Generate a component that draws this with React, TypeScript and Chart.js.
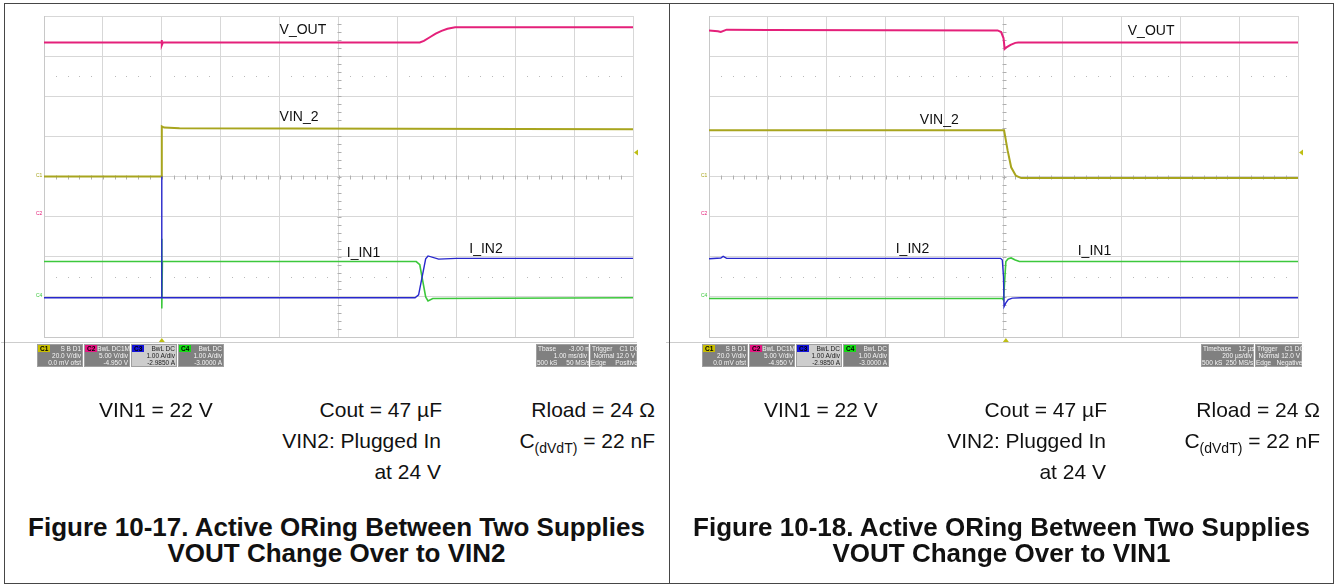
import React, { useEffect, useRef } from "react";
import { Chart, registerables } from "chart.js";
Chart.register(...registerables);

// ---------- Data (x in screen divisions 0..10, y in divisions -4..4) ----------
// Figure 10-17
const F17_VOUT_X = [0, 2.0, 2.0, 2.0, 2.02, 6.38, 6.45, 6.55, 6.65, 6.75, 6.85, 6.98, 10];
const F17_VOUT_Y = [3.34, 3.34, 3.4, 3.27, 3.34, 3.34, 3.38, 3.47, 3.56, 3.63, 3.68, 3.72, 3.72];
const F17_VIN2_X = [0, 2.0, 2.0, 2.04, 2.3, 10];
const F17_VIN2_Y = [0, 0, 1.25, 1.22, 1.2, 1.18];
const F17_IIN1_X = [0, 2.0, 2.0, 2.0, 2.01, 6.32, 6.38, 6.43, 6.48, 6.52, 6.6, 10];
const F17_IIN1_Y = [-2.12, -2.12, -1.55, -3.29, -2.12, -2.12, -2.2, -2.6, -3.0, -3.1, -3.04, -3.02];
const F17_IIN2_X = [0, 2.0, 2.0, 2.0, 2.01, 6.3, 6.36, 6.42, 6.48, 6.52, 6.7, 7.0, 10];
const F17_IIN2_Y = [-3.02, -3.02, 0, -3.02, -3.02, -3.02, -2.95, -2.5, -2.05, -1.98, -2.06, -2.04, -2.04];

// Figure 10-18
const F18_VOUT_X = [0, 0.15, 0.2, 0.3, 1.0, 4.9, 4.96, 5.0, 5.02, 5.05, 5.12, 5.2, 5.25, 10];
const F18_VOUT_Y = [3.64, 3.62, 3.6, 3.66, 3.65, 3.64, 3.6, 3.45, 3.18, 3.22, 3.28, 3.33, 3.34, 3.34];
const F18_VIN2_X = [0, 5.01, 5.07, 5.13, 5.21, 5.3, 10];
const F18_VIN2_Y = [1.15, 1.15, 0.65, 0.23, 0.02, -0.04, -0.04];
const F18_IIN2_X = [0, 0.2, 0.24, 0.3, 4.95, 4.98, 5.0, 5.01, 5.04, 5.08, 5.15, 5.3, 10];
const F18_IIN2_Y = [-2.05, -2.03, -1.99, -2.04, -2.04, -2.08, -2.5, -3.24, -3.15, -3.07, -3.03, -3.02, -3.02];
const F18_IIN1_X = [0, 4.98, 5.0, 5.02, 5.04, 5.08, 5.13, 5.2, 5.27, 10];
const F18_IIN1_Y = [-3.04, -3.04, -3.08, -2.6, -2.12, -2.05, -2.03, -2.08, -2.12, -2.12];

// Trace labels (text, x div, y div)
const F17_LABELS = ["V_OUT", "VIN_2", "I_IN1", "I_IN2"];
const F17_LABEL_X = [4.0, 4.0, 5.14, 7.22];
const F17_LABEL_Y = [3.64, 1.47, -1.9, -1.8];
const F18_LABELS = ["V_OUT", "VIN_2", "I_IN2", "I_IN1"];
const F18_LABEL_X = [7.11, 3.58, 3.17, 6.26];
const F18_LABEL_Y = [3.62, 1.4, -1.8, -1.85];

const F17_TRIG_X = 2.0;
const F18_TRIG_X = 5.04;
const TRIG_LEVEL = 0.6;

const PINK = "rgb(228,32,122)";
const OLIVE = "rgb(168,165,30)";
const GREEN = "rgb(60,200,60)";
const BLUE = "rgb(40,40,205)";

const FONT = "'Liberation Sans', Arial, sans-serif";

type Props = {
  traces: { xs: number[]; ys: number[]; color: string; width: number; order: number }[];
  labels: string[];
  labelX: number[];
  labelY: number[];
  trigX: number;
};

function zip(xs: number[], ys: number[]) {
  return xs.map((x, i) => ({ x, y: ys[i] }));
}

function ScopeCanvas({ traces, labels, labelX, labelY, trigX }: Props) {
  const ref = useRef<HTMLCanvasElement>(null);
  useEffect(() => {
    const canvas = ref.current!;
    const plugin = {
      id: "graticule",
      beforeDatasetsDraw(chart: any) {
        const { ctx, scales } = chart;
        const x = scales.x;
        const y = scales.y;
        ctx.save();
        ctx.strokeStyle = "rgb(175,175,175)";
        ctx.lineWidth = 1;
        const y0 = Math.round(y.getPixelForValue(0)) + 0.5;
        const x0 = Math.round(x.getPixelForValue(5)) + 0.5;
        ctx.beginPath();
        for (let i = 1; i < 50; i++) {
          const px = Math.round(x.getPixelForValue(i * 0.2)) + 0.5;
          ctx.moveTo(px, y0 - 2);
          ctx.lineTo(px, y0 + 2);
        }
        for (let i = 1; i < 40; i++) {
          const py = Math.round(y.getPixelForValue(-4 + i * 0.2)) + 0.5;
          ctx.moveTo(x0 - 2, py);
          ctx.lineTo(x0 + 2, py);
        }
        ctx.stroke();
        ctx.fillStyle = "rgb(185,185,185)";
        for (const row of [2.5, -2.5]) {
          const py = Math.round(y.getPixelForValue(row));
          for (let i = 1; i < 50; i++) {
            if (i % 5 === 0) continue;
            const px = Math.round(x.getPixelForValue(i * 0.2));
            ctx.fillRect(px, py, 1, 1);
          }
        }
        ctx.restore();
      },
      afterDatasetsDraw(chart: any) {
        const { ctx, scales, chartArea } = chart;
        const x = scales.x;
        const y = scales.y;
        ctx.save();
        ctx.fillStyle = "#111";
        ctx.font = `14px ${FONT}`;
        ctx.textBaseline = "middle";
        ctx.textAlign = "left";
        labels.forEach((t, i) => {
          ctx.fillText(t, x.getPixelForValue(labelX[i]), y.getPixelForValue(labelY[i]));
        });
        ctx.fillStyle = "rgb(190,190,20)";
        const ty = y.getPixelForValue(TRIG_LEVEL);
        ctx.beginPath();
        ctx.moveTo(chartArea.right + 1, ty);
        ctx.lineTo(chartArea.right + 5, ty - 3);
        ctx.lineTo(chartArea.right + 5, ty + 3);
        ctx.closePath();
        ctx.fill();
        const tx = x.getPixelForValue(trigX);
        ctx.beginPath();
        ctx.moveTo(tx, chartArea.bottom + 1);
        ctx.lineTo(tx - 3, chartArea.bottom + 5);
        ctx.lineTo(tx + 3, chartArea.bottom + 5);
        ctx.closePath();
        ctx.fill();
        ctx.restore();
      },
    };
    const chart = new Chart(canvas, {
      type: "line",
      data: {
        datasets: traces.map((t) => ({
          data: zip(t.xs, t.ys),
          borderColor: t.color,
          borderWidth: t.width,
          pointRadius: 0,
          tension: 0,
          fill: false,
          order: t.order,
        })),
      },
      options: {
        animation: false,
        responsive: false,
        devicePixelRatio: 1,
        layout: { padding: { left: 44, top: 16, right: 35, bottom: 43 }, autoPadding: false },
        plugins: { legend: { display: false }, tooltip: { enabled: false } },
        events: [],
        scales: {
          x: {
            type: "linear",
            min: 0,
            max: 10,
            ticks: { display: false, stepSize: 1 },
            grid: { color: "rgb(215,215,215)", drawTicks: false, lineWidth: 1 },
            border: { color: "rgb(200,200,200)" },
          },
          y: {
            type: "linear",
            min: -4,
            max: 4,
            ticks: { display: false, stepSize: 1 },
            grid: { color: "rgb(215,215,215)", drawTicks: false, lineWidth: 1 },
            border: { color: "rgb(200,200,200)" },
          },
        },
      },
      plugins: [plugin],
    });
    return () => chart.destroy();
  }, []);
  return (
    <canvas
      ref={ref}
      width={668}
      height={380}
      style={{ position: "absolute", left: 0, top: 0, width: 668, height: 380 }}
    />
  );
}

function InfoBox({ left, badge, badgeColor, head, l2, l3, light, w = 46 }: any) {
  return (
    <div
      style={{
        position: "absolute",
        left,
        top: 344,
        width: w,
        height: 23,
        boxSizing: "border-box",
        background: light ? "rgb(205,205,205)" : "rgb(128,128,128)",
        border: "1px solid rgb(160,160,160)",
        fontFamily: FONT,
        fontSize: 6.5,
        lineHeight: "7px",
        color: light ? "#222" : "#f4f4f4",
      }}
    >
      <div style={{ display: "flex", justifyContent: "space-between", height: 7 }}>
        {badge ? (
          <span style={{ background: badgeColor, color: "#000", padding: "0 2px", fontWeight: "bold" }}>{badge}</span>
        ) : null}
        <span style={{ paddingRight: 1, marginLeft: badge ? 0 : 1, whiteSpace: "pre" }}>{head}</span>
      </div>
      <div style={{ textAlign: "right", paddingRight: 1 }}>{l2}</div>
      <div style={{ textAlign: "right", paddingRight: 1, whiteSpace: "pre" }}>{l3}</div>
    </div>
  );
}

function TextAt({ right, left, yc, children, size = 21 }: any) {
  const pos: any = left !== undefined ? { left } : { right: 668 - right };
  return (
    <div
      style={{
        position: "absolute",
        ...pos,
        top: yc - 13,
        height: 26,
        lineHeight: "26px",
        fontFamily: FONT,
        fontSize: size,
        color: "#111",
        whiteSpace: "nowrap",
      }}
    >
      {children}
    </div>
  );
}

function Panel({ left, trigX, traces, labels, labelX, labelY, timebase, tbHead, trigEdge, title1, title2 }: any) {
  return (
    <div style={{ position: "absolute", left, top: 0, width: 668, height: 584 }}>
      <ScopeCanvas traces={traces} labels={labels} labelX={labelX} labelY={labelY} trigX={trigX} />
      <div style={{ position: "absolute", left: 1, top: 342, width: 636, height: 1, background: "rgb(205,205,205)" }} />
      <div style={{ position: "absolute", left: 36, top: 172, fontFamily: FONT, fontSize: 5, color: OLIVE }}>C1</div>
      <div style={{ position: "absolute", left: 36, top: 210, fontFamily: FONT, fontSize: 5, color: PINK }}>C2</div>
      <div style={{ position: "absolute", left: 36, top: 292, fontFamily: FONT, fontSize: 5, color: GREEN }}>C4</div>
      <InfoBox left={37} badge="C1" badgeColor="rgb(200,190,0)" head="S B D1" l2="20.0 V/div" l3="0.0 mV ofst" />
      <InfoBox left={84} badge="C2" badgeColor="rgb(230,20,130)" head="BwL DC1M" l2="5.00 V/div" l3="-4.950 V" />
      <InfoBox left={131} badge="C3" badgeColor="rgb(20,20,220)" head="BwL DC" l2="1.00 A/div" l3="-2.9850 A" light />
      <InfoBox left={178} badge="C4" badgeColor="rgb(20,220,20)" head="BwL DC" l2="1.00 A/div" l3="-3.0000 A" />
      <InfoBox left={536} head={tbHead} l2={timebase[0]} l3={timebase[1]} w={53} />
      <InfoBox left={590} head="Trigger    C1 DC" l2="Normal     12.0 V" l3={trigEdge} w={47} />
      <TextAt left={99} yc={410}>VIN1 = 22 V</TextAt>
      <TextAt right={442} yc={410}>Cout = 47 µF</TextAt>
      <TextAt right={655} yc={410}>Rload = 24 Ω</TextAt>
      <TextAt right={441} yc={441}>VIN2: Plugged In</TextAt>
      <TextAt right={655} yc={441}>
        C<sub style={{ fontSize: 14, verticalAlign: -5, lineHeight: 0 }}>(dVdT)</sub> = 22 nF
      </TextAt>
      <TextAt right={441} yc={472}>at 24 V</TextAt>
      <div
        style={{
          position: "absolute",
          left: 4,
          width: 665,
          top: 514,
          textAlign: "center",
          fontFamily: FONT,
          fontWeight: "bold",
          fontSize: 26,
          lineHeight: "26px",
          color: "#111",
          whiteSpace: "nowrap",
        }}
      >
        <div>{title1}</div>
        <div>{title2}</div>
      </div>
    </div>
  );
}

export default function App() {
  const f17 = [
    { xs: F17_IIN1_X, ys: F17_IIN1_Y, color: GREEN, width: 1.6, order: 2 },
    { xs: F17_IIN2_X, ys: F17_IIN2_Y, color: BLUE, width: 1.4, order: 1 },
    { xs: F17_VIN2_X, ys: F17_VIN2_Y, color: OLIVE, width: 2, order: 3 },
    { xs: F17_VOUT_X, ys: F17_VOUT_Y, color: PINK, width: 2, order: 4 },
  ];
  const f18 = [
    { xs: F18_IIN1_X, ys: F18_IIN1_Y, color: GREEN, width: 1.6, order: 2 },
    { xs: F18_IIN2_X, ys: F18_IIN2_Y, color: BLUE, width: 1.4, order: 1 },
    { xs: F18_VIN2_X, ys: F18_VIN2_Y, color: OLIVE, width: 2, order: 3 },
    { xs: F18_VOUT_X, ys: F18_VOUT_Y, color: PINK, width: 2, order: 4 },
  ];
  return (
    <div style={{ position: "absolute", left: 0, top: 0, width: 1336, height: 584, background: "#fff", overflow: "hidden" }}>
      <Panel
        left={0}
        trigX={F17_TRIG_X}
        traces={f17}
        labels={F17_LABELS}
        labelX={F17_LABEL_X}
        labelY={F17_LABEL_Y}
        tbHead="Tbase       -3.00 ms"
        timebase={["1.00 ms/div", "500 kS     50 MS/s"]}
        trigEdge="Edge     Positive"
        title1="Figure 10-17. Active ORing Between Two Supplies"
        title2="VOUT Change Over to VIN2"
      />
      <Panel
        left={665}
        trigX={F18_TRIG_X}
        traces={f18}
        labels={F18_LABELS}
        labelX={F18_LABEL_X}
        labelY={F18_LABEL_Y}
        tbHead="Timebase    12 µs"
        timebase={["200 µs/div", "500 kS  250 MS/s"]}
        trigEdge="Edge   Negative"
        title1="Figure 10-18. Active ORing Between Two Supplies"
        title2="VOUT Change Over to VIN1"
      />
      <div style={{ position: "absolute", left: 4, top: 3, width: 1330, height: 581, boxSizing: "border-box", border: "1px solid rgb(70,70,70)", pointerEvents: "none" }} />
      <div style={{ position: "absolute", left: 669, top: 3, width: 1, height: 581, background: "rgb(70,70,70)" }} />
    </div>
  );
}
